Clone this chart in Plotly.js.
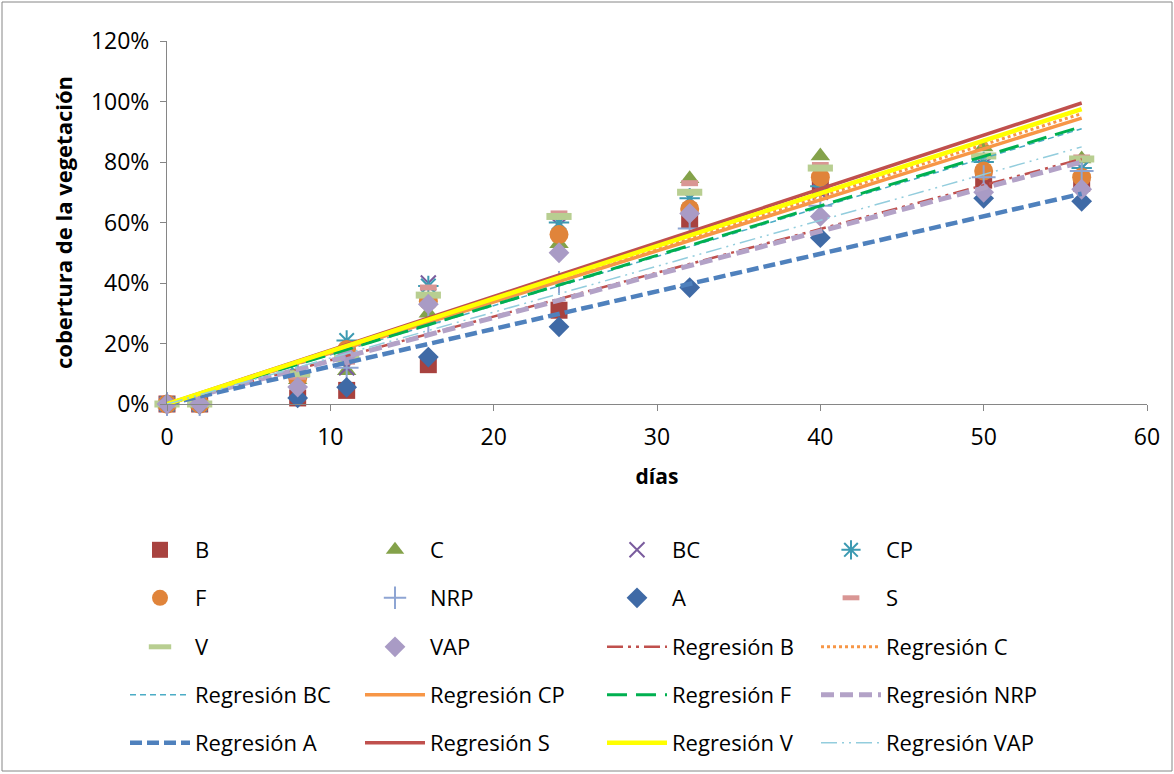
<!DOCTYPE html>
<html>
<head>
<meta charset="utf-8">
<script src="https://cdn.plot.ly/plotly-3.0.1.min.js"></script>
<style>html,body{margin:0;padding:0;background:#fff;}#chart{width:1174px;height:774px;}</style>
</head>
<body>
<div id="chart"></div>
<script>
// ---- data ----
const days = [0, 2, 8, 11, 16, 24, 32, 40, 50, 56];
const B   = [0, 0, 0.02, 0.045, 0.13, 0.31, 0.61, 0.715, 0.74, 0.73];
const C   = [0, 0, 0.08, 0.11, 0.30, 0.53, 0.745, 0.82, 0.85, 0.81];
const BC  = [0, 0, 0.09, 0.12, 0.40, 0.59, 0.68, 0.70, 0.79, 0.78];
const CP  = [0, 0, 0.10, 0.21, 0.39, 0.60, 0.68, 0.72, 0.80, 0.78];
const F   = [0, 0, 0.085, 0.18, 0.34, 0.56, 0.645, 0.75, 0.77, 0.75];
const NRP = [0, 0, 0.09, 0.12, 0.27, 0.40, 0.58, 0.655, 0.75, 0.77];
const A   = [0, 0, 0.02, 0.055, 0.155, 0.255, 0.385, 0.55, 0.68, 0.67];
const S   = [0, 0, 0.09, 0.14, 0.385, 0.63, 0.73, 0.79, 0.82, 0.815];
const V   = [0, 0, 0.10, 0.15, 0.36, 0.62, 0.70, 0.78, 0.82, 0.81];
const VAP = [0, 0, 0.056, 0.16, 0.33, 0.50, 0.63, 0.62, 0.70, 0.71];

const seriesNames = ['B', 'C', 'BC', 'CP', 'F', 'NRP', 'A', 'S', 'V', 'VAP'];
const seriesValues = [B, C, BC, CP, F, NRP, A, S, V, VAP];

// regression (trend) lines through origin: value at start and end day
const regDays  = [0, 56];
const regStart = [0, 0, 0, 0, 0, 0, 0, 0, 0, 0];
const regEnd   = [0.81, 0.96, 0.91, 0.945, 0.917, 0.80, 0.695, 0.995, 0.975, 0.85];

const xTicks = [0, 10, 20, 30, 40, 50, 60];
const yTicks = [0, 0.2, 0.4, 0.6, 0.8, 1.0, 1.2];

// ---- styles ----
const markerStyles = {
  B:   {symbol: 'square', size: 17, color: '#A8423F'},
  C:   {symbol: 'triangle-up', size: 17, color: '#84A24A'},
  BC:  {symbol: 'x-thin-open', size: 15, color: '#7A5C9E', line: {width: 2, color: '#7A5C9E'}},
  CP:  {symbol: 'asterisk-open', size: 17, color: '#3C9AB2', line: {width: 2, color: '#3C9AB2'}},
  F:   {symbol: 'circle', size: 19, color: '#E0843A'},
  NRP: {symbol: 'cross-thin-open', size: 17, color: '#8EA5D3', line: {width: 2, color: '#8EA5D3'}},
  A:   {symbol: 'diamond', size: 16, color: '#3F6AA6'},
  S:   {symbol: 'line-ew-open', size: 12, color: '#D99694', line: {width: 6, color: '#D99694'}},
  V:   {symbol: 'line-ew-open', size: 18, color: '#B8CE91', line: {width: 7, color: '#B8CE91'}},
  VAP: {symbol: 'diamond', size: 16, color: '#A99BC5'}
};
const regStyles = {
  B:   {color: '#C0504D', width: 2.5, dash: '16px,5px,3px,5px,3px,5px'},
  C:   {color: '#F79646', width: 3, dash: '3px,3px'},
  BC:  {color: '#4BACC6', width: 1.5, dash: '6px,4px'},
  CP:  {color: '#F79646', width: 3.5, dash: 'solid'},
  F:   {color: '#00B050', width: 3, dash: '20px,9px'},
  NRP: {color: '#B3A2C7', width: 5, dash: '13px,6px'},
  A:   {color: '#4F81BD', width: 4.5, dash: '12px,5px'},
  S:   {color: '#C0504D', width: 3.5, dash: 'solid'},
  V:   {color: '#FFFF00', width: 4.5, dash: 'solid'},
  VAP: {color: '#93CDDD', width: 1.5, dash: '16px,5px,2px,5px,2px,5px'}
};

const FONT = 'Open Sans, Noto Sans, sans-serif';
// legend grid (positions in container px): 4 columns x 5 rows
const colTextX = [195, 430, 672, 886];
const rowY = [550, 598, 647, 695, 743];
const W = 1174, H = 774;
const ITEMW = 60;

function legendId(i) { return i === 0 ? 'legend' : 'legend' + (i + 1); }

const traces = [];
const layoutLegends = {};
let li = 0;
seriesNames.forEach((n, k) => {
  traces.push({
    type: 'scatter', mode: 'markers', name: n,
    x: days, y: seriesValues[k], cliponaxis: false,
    marker: markerStyles[n], legend: legendId(li)
  });
  li++;
});
seriesNames.forEach((n, k) => {
  const st = regStyles[n];
  traces.push({
    type: 'scatter', mode: 'lines', name: 'Regresión ' + n,
    x: regDays, y: [regStart[k], regEnd[k]], cliponaxis: false,
    line: {color: st.color, width: st.width, dash: st.dash},
    legend: legendId(li)
  });
  li++;
});

for (let i = 0; i < 20; i++) {
  const col = i % 4, row = Math.floor(i / 4);
  layoutLegends[legendId(i)] = {
    xref: 'container', yref: 'container',
    x: (colTextX[col] - ITEMW - 10) / W,
    y: 1 - rowY[row] / H,
    xanchor: 'left', yanchor: 'middle',
    orientation: 'h', itemwidth: ITEMW,
    bgcolor: 'rgba(0,0,0,0)', borderwidth: 0,
    font: {family: FONT, size: 22, color: '#000'},
    itemclick: false, itemdoubleclick: false
  };
}

const layout = Object.assign({
  width: W, height: H,
  paper_bgcolor: '#fff', plot_bgcolor: '#fff',
  margin: {l: 167, r: 27, t: 41, b: 370},
  showlegend: true,
  font: {family: FONT, color: '#000'},
  xaxis: {
    range: [0, 60], tickvals: xTicks, ticktext: xTicks.map(String),
    showgrid: false, zeroline: false, showline: true, linecolor: '#868686', linewidth: 1,
    ticks: 'outside', ticklen: 6, tickcolor: '#868686',
    tickfont: {family: FONT, size: 23, color: '#000'},
    ticklabelstandoff: 6,
    title: {text: '<b>días</b>', font: {family: FONT, size: 21, color: '#000'}, standoff: 18}
  },
  yaxis: {
    range: [0, 1.2], tickvals: yTicks, tickformat: '.0%',
    showgrid: false, zeroline: false, showline: true, linecolor: '#868686', linewidth: 1,
    ticks: 'outside', ticklen: 6, tickcolor: '#868686',
    tickfont: {family: FONT, size: 23, color: '#000'},
    ticklabelstandoff: 6,
    title: {text: '<b>cobertura de la vegetación</b>', font: {family: FONT, size: 22, color: '#000'}, standoff: 12}
  },
  shapes: [{
    type: 'rect', xref: 'paper', yref: 'paper',
    x0: (2 - 167) / 980, x1: (1172 - 167) / 980,
    y0: (404 - 771) / 363, y1: (404 - 2) / 363,
    line: {color: '#868686', width: 1}, fillcolor: 'rgba(0,0,0,0)', layer: 'below'
  }]
}, layoutLegends);

Plotly.newPlot('chart', traces, layout, {staticPlot: true, displayModeBar: false});
</script>
</body>
</html>
